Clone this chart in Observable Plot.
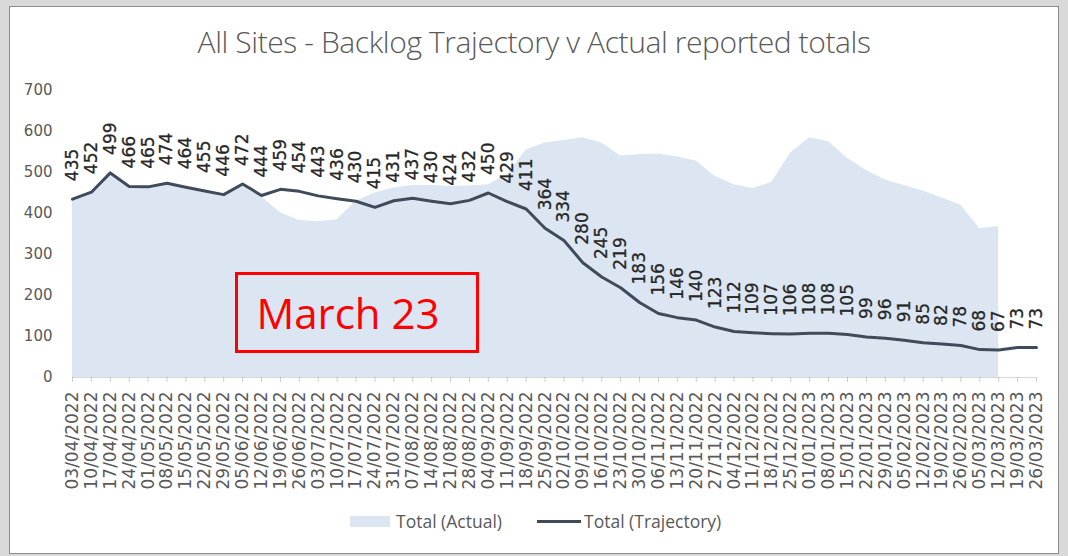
<!DOCTYPE html>
<html>
<head>
<meta charset="utf-8">
<script src="https://cdn.jsdelivr.net/npm/d3@7"></script>
<script src="https://cdn.jsdelivr.net/npm/@observablehq/plot@0.6"></script>
<style>
  html, body { margin: 0; padding: 0; background: #d9d9d9; }
  #wrap { position: relative; width: 1068px; height: 556px; background: #d9d9d9; overflow: hidden; }
  #panel { position: absolute; left: 9px; top: 6px; width: 1048px; height: 546px; background: #fff; border: 1px solid #8c8c8c; }
  #chart { position: absolute; left: 0; top: 0; }
  #title { position: absolute; left: 0; width: 1068px; top: 21px; text-align: center; font-family: "Open Sans", sans-serif; font-size: 30px; font-weight: 300; color: #595959; letter-spacing: -0.4px; }
  #legend { position: absolute; top: 509px; left: 0; width: 1068px; height: 24px; font-family: "Open Sans", sans-serif; font-size: 17.5px; color: #595959; }
  .sw { position: absolute; }
  #note { position: absolute; left: 235px; top: 272px; width: 238px; height: 75px; border: 3px solid #ff0000; color: #ff0000; font-family: "Open Sans", sans-serif; font-size: 42px; line-height: 75px; text-align: center; box-sizing: content-box; }
  #note span { position: relative; left: -9px; }
</style>
</head>
<body>
<div id="wrap">
  <div id="panel"></div>
  <div id="chart"></div>
  <div id="title">All Sites - Backlog Trajectory v Actual reported totals</div>
  <div id="legend">
    <div class="sw" style="left:350px;top:7px;width:40px;height:11px;background:#dce6f2;"></div>
    <div class="sw" style="left:396px;top:0px;line-height:24px;">Total (Actual)</div>
    <div class="sw" style="left:537px;top:11px;width:44px;height:3px;background:#3f4b5b;"></div>
    <div class="sw" style="left:584px;top:0px;line-height:24px;">Total (Trajectory)</div>
  </div>
  <div id="note"><span>March 23</span></div>
</div>
<script>
const dates = ["03/04/2022","10/04/2022","17/04/2022","24/04/2022","01/05/2022","08/05/2022","15/05/2022","22/05/2022","29/05/2022","05/06/2022","12/06/2022","19/06/2022","26/06/2022","03/07/2022","10/07/2022","17/07/2022","24/07/2022","31/07/2022","07/08/2022","14/08/2022","21/08/2022","28/08/2022","04/09/2022","11/09/2022","18/09/2022","25/09/2022","02/10/2022","09/10/2022","16/10/2022","23/10/2022","30/10/2022","06/11/2022","13/11/2022","20/11/2022","27/11/2022","04/12/2022","11/12/2022","18/12/2022","25/12/2022","01/01/2023","08/01/2023","15/01/2023","22/01/2023","29/01/2023","05/02/2023","12/02/2023","19/02/2023","26/02/2023","05/03/2023","12/03/2023","19/03/2023","26/03/2023"];

const trajectory = [435,452,499,466,465,474,464,455,446,472,444,459,454,443,436,430,415,431,437,430,424,432,450,429,411,364,334,280,245,219,183,156,146,140,123,112,109,107,106,108,108,105,99,96,91,85,82,78,68,67,73,73];

const actual = [435,450,495,466,465,468,462,455,446,468,440,402,383,380,385,430,450,462,468,468,466,467,470,495,555,572,578,585,572,540,543,545,538,528,490,470,461,476,548,585,575,535,505,482,468,455,438,420,363,368,null,null];

const yTicks = [0,100,200,300,400,500,600,700];

const data = dates.map((d, i) => ({date: d, traj: trajectory[i], actual: actual[i]}));
const actualData = data.filter(d => d.actual != null);

const font = "DejaVu Sans";

const chart = Plot.plot({
  width: 1068,
  height: 556,
  marginLeft: 72,
  marginRight: 32,
  marginTop: 90,
  marginBottom: 179,
  style: {background: "transparent", fontFamily: font, overflow: "visible"},
  x: {type: "point", domain: dates, padding: 0},
  y: {domain: [0, 700]},
  marks: [
    Plot.areaY(actualData, {x: "date", y1: 0, y2: "actual", fill: "#dce6f2", curve: "linear"}),
    Plot.ruleY([0], {stroke: "#d9d9d9"}),
    Plot.axisX({tickRotate: -90, tickSize: 5, tickPadding: 9, fontSize: 17, color: "#595959", strokeOpacity: 0.3, label: null, fontFamily: font}),
    Plot.axisY({ticks: yTicks, tickSize: 0, tickPadding: 20, fontSize: 15, color: "#595959", label: null, fontFamily: font}),
    Plot.lineY(data, {x: "date", y: "traj", stroke: "#3f4b5b", strokeWidth: 3, curve: "linear"}),
    Plot.text(data, {x: "date", y: "traj", text: d => String(d.traj), rotate: -90, textAnchor: "start", dy: -18, fontSize: 17, fill: "#262626", stroke: "#262626", strokeWidth: 0.3, fontFamily: font})
  ]
});
document.getElementById("chart").appendChild(chart);
</script>
</body>
</html>
